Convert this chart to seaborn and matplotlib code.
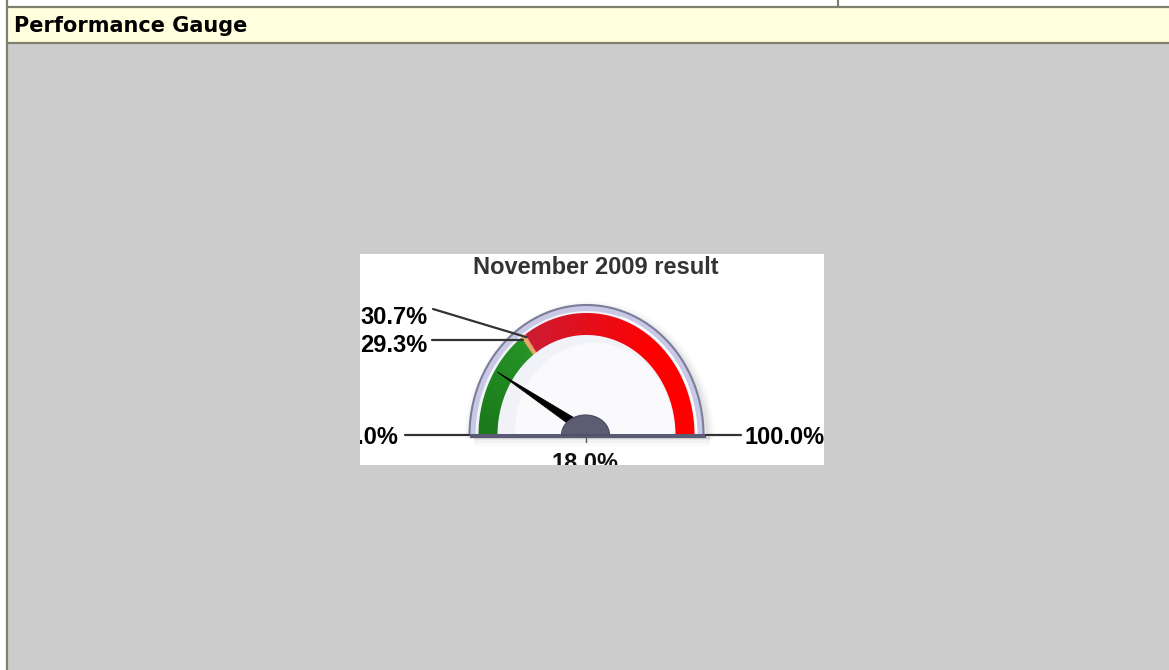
import numpy as np
import matplotlib
matplotlib.use("Agg")
import matplotlib.pyplot as plt
import matplotlib.patches as mpatches
import seaborn as sns

# ---- data ----
panel_title = "Performance Gauge"
chart_title = "November 2009 result"
gauge_min = 0.0
gauge_max = 100.0
gauge_value = 18.0
threshold_low = 29.3
threshold_high = 30.7
band_colors = ["#1f8a1f", "#e8a060", "#ff0000"]

sns.set_theme(style="white")
plt.rcParams['font.family'] = ['DejaVu Sans']

W, H = 1169, 670
fig = plt.figure(figsize=(W / 100, H / 100), dpi=100)
ax = fig.add_axes([0, 0, 1, 1])
ax.set_xlim(0, W)
ax.set_ylim(H, 0)
ax.axis("off")
fig.patch.set_facecolor("white")

line_c = "#808070"
# page panels
ax.add_patch(mpatches.Rectangle((7, 43), W - 7, H - 43, facecolor="#cccccc", edgecolor="none", zorder=0))
ax.add_patch(mpatches.Rectangle((7, 7), W - 7, 36, facecolor="#ffffdd", edgecolor="none", zorder=0))
ax.plot([6, W], [6.5, 6.5], color=line_c, lw=1.6, solid_capstyle="butt", zorder=1)
ax.plot([6, W], [42.5, 42.5], color=line_c, lw=1.6, solid_capstyle="butt", zorder=1)
ax.plot([6.5, 6.5], [0, H], color=line_c, lw=1.6, solid_capstyle="butt", zorder=1)
ax.plot([837.5, 837.5], [0, 6], color=line_c, lw=1.6, solid_capstyle="butt", zorder=1)
ax.text(14, 26, panel_title, fontsize=15, fontweight="bold", color="black",
        va="center", ha="left", family="DejaVu Sans")

# gauge image area
img = mpatches.Rectangle((360, 254), 464, 211, facecolor="white", edgecolor="none", zorder=2)
ax.add_patch(img)

cx, cy = 586.5, 435.0


def ang(v):
    return np.pi * (1 - (v - gauge_min) / (gauge_max - gauge_min))


def pt(v, rx, ry):
    a = ang(v)
    return cx + rx * np.cos(a), cy - ry * np.sin(a)


def band(v0, v1, rxo, ryo, rxi, ryi, n=80):
    t = np.linspace(ang(v0), ang(v1), n)
    outer = np.c_[cx + rxo * np.cos(t), cy - ryo * np.sin(t)]
    inner = np.c_[cx + rxi * np.cos(t[::-1]), cy - ryi * np.sin(t[::-1])]
    return np.vstack([outer, inner])


gfont = ["Liberation Sans", "DejaVu Sans"]

# soft shadow
for i, a in enumerate([0.08, 0.06, 0.04, 0.03]):
    sh = band(gauge_min, gauge_max, 119 + 2 * i, 132 + 2 * i, 0, 0)
    ax.add_patch(mpatches.Polygon(sh + [3, 4], closed=True, facecolor="#707070",
                                  alpha=a, edgecolor="none", zorder=2.5))
for i, a in enumerate([0.10, 0.06, 0.04]):
    ax.add_patch(mpatches.Rectangle((474, 437), 236, 3 + 3 * i, facecolor="#808080", alpha=a,
                                    edgecolor="none", zorder=2.5))

# bezel
ax.add_patch(mpatches.Polygon(band(gauge_min, gauge_max, 117, 130, 0, 0), closed=True,
                              facecolor="#c9c9e6", edgecolor="#7c7c9c", lw=1.5, zorder=3))
# face
ax.add_patch(mpatches.Polygon(band(gauge_min, gauge_max, 111, 124, 0, 0), closed=True,
                              facecolor="#f1f1f8", edgecolor="none", zorder=3.1))
ax.add_patch(mpatches.Polygon(band(gauge_min, gauge_max, 80, 92, 0, 0) + [8, 0], closed=True,
                              facecolor="#fafafd", edgecolor="none", zorder=3.15))

# coloured band as a gradient image clipped to the annulus
rxo, ryo, rxi, ryi = 108, 122, 89, 100
xs = np.linspace(cx - rxo - 2, cx + rxo + 2, 400)
ys = np.linspace(cy - ryo - 2, cy + 1, 250)
X, Y = np.meshgrid(xs, ys)
theta = np.arctan2(np.maximum(cy - Y, 0) / ryo, (X - cx) / rxo)
val = gauge_min + (1 - theta / np.pi) * (gauge_max - gauge_min)
rgb = np.zeros(X.shape + (3,))
g0, g1 = np.array([0.10, 0.47, 0.10]), np.array([0.15, 0.58, 0.15])
fg = np.clip((val - gauge_min) / (threshold_low - gauge_min), 0, 1)[..., None]
green = g0 + (g1 - g0) * fg
r0, r1 = np.array([0.80, 0.11, 0.20]), np.array([1.0, 0.0, 0.0])
fr = np.clip((val - threshold_high) / ((gauge_max - threshold_high) * 0.6), 0, 1)[..., None]
red = r0 + (r1 - r0) * fr
orange = np.array([0.91, 0.66, 0.40])
rgb[:] = red
rgb[val < threshold_high] = orange
rgb[val < threshold_low] = green[val < threshold_low]
clip_band = mpatches.Polygon(band(gauge_min, gauge_max, rxo, ryo, rxi, ryi, 200), closed=True,
                             facecolor="none", edgecolor="none", transform=ax.transData)
ax.add_patch(clip_band)
im = ax.imshow(rgb, extent=(xs[0], xs[-1], ys[-1], ys[0]), origin="upper",
               interpolation="bilinear", zorder=3.2, aspect="auto")
im.set_clip_path(clip_band)
ax.set_xlim(0, W)
ax.set_ylim(H, 0)

# thin white rim outside red
t = np.linspace(ang(60), ang(gauge_max), 40)
ax.plot(cx + 110 * np.cos(t), cy - 124 * np.sin(t), color="white", lw=1.2, zorder=3.3)

# base bar
ax.add_patch(mpatches.Rectangle((470, 434), 236, 4, facecolor="#5a5a74", edgecolor="none", zorder=3.4))
ax.plot([cx - 1, cx - 1], [438, 442], color="#5a5a74", lw=1, zorder=3.4)

# needle
a = ang(gauge_value)
tip = np.array([cx + 106 * np.cos(a), cy - 118 * np.sin(a)])
perp = np.array([np.sin(a), np.cos(a)])
base = np.array([cx, cy - 4])
needle = np.vstack([tip, base + perp * 5, base - perp * 5])
ax.add_patch(mpatches.Polygon(needle, closed=True, facecolor="black", edgecolor="black", lw=0.5, zorder=3.5))

# hub
th = np.linspace(0, np.pi, 50)
hub = np.c_[cx - 1 + 24 * np.cos(th), cy - 20 * np.sin(th)]
ax.add_patch(mpatches.Polygon(hub, closed=True, facecolor="#5c5c72", edgecolor="#4a4a60", lw=0.8, zorder=3.6))

# title
ax.text(596, 267, chart_title, fontsize=17, fontweight="bold", color="#333333",
        ha="center", va="center", family=gfont, zorder=4)


def fmt(v):
    return f"{v:.1f}%"


lc = "#333333"
fs = 17
# threshold labels and leaders
x1, y1 = pt(threshold_high, rxo - 3, ryo - 3)
ax.plot([433, x1], [309, y1], color=lc, lw=1.6, zorder=4)
ax.text(360, 317, fmt(threshold_high), fontsize=fs, fontweight="bold", color="black",
        ha="left", va="center", family=gfont, zorder=4)
x2, y2 = pt(threshold_low, rxo - 3, ryo - 3)
ax.plot([432, x2], [y2, y2], color=lc, lw=1.6, zorder=4)
ax.text(360, 346, fmt(threshold_low), fontsize=fs, fontweight="bold", color="black",
        ha="left", va="center", family=gfont, zorder=4)

# min / max labels
ax.plot([405, 469], [434.5, 434.5], color=lc, lw=1.6, zorder=4)
tmin = ax.text(398, 438, fmt(gauge_min), fontsize=fs, fontweight="bold", color="black",
               ha="right", va="center", family=gfont, zorder=4, clip_on=True)
tmin.set_clip_path(img)
ax.plot([706, 741], [434.5, 434.5], color=lc, lw=1.6, zorder=4)
ax.text(745, 438, fmt(gauge_max), fontsize=fs, fontweight="bold", color="black",
        ha="left", va="center", family=gfont, zorder=4)

# value label (clipped at image bottom)
tv = ax.text(585, 463, fmt(gauge_value), fontsize=fs, fontweight="bold", color="#111111",
             ha="center", va="center", family=gfont, zorder=4, clip_on=True)
tv.set_clip_path(img)

fig.savefig("out.png", dpi=100, facecolor="white")
